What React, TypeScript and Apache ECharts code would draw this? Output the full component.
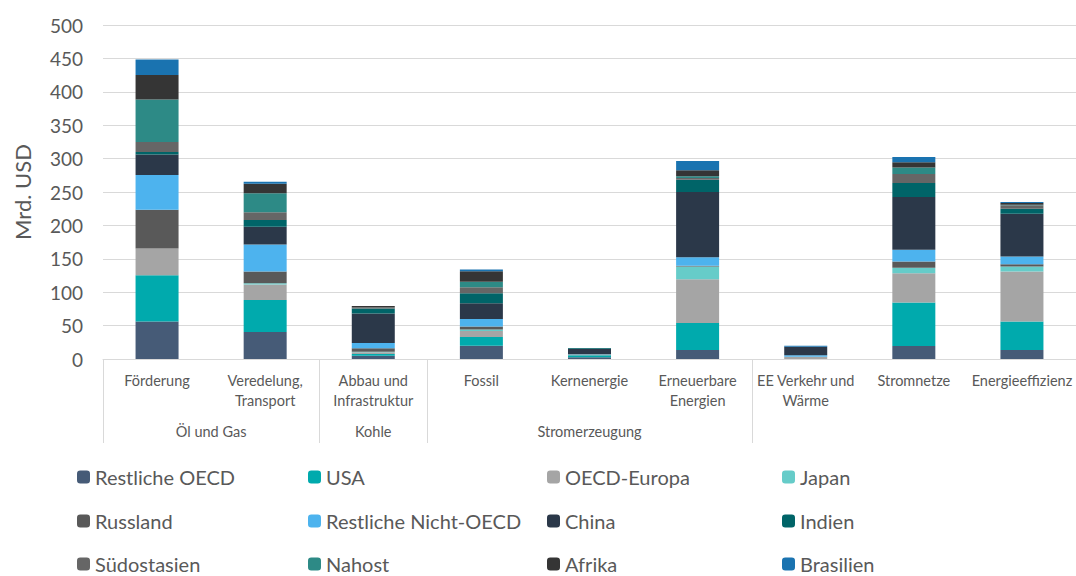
import React, { useEffect, useRef } from "react";
import * as echarts from "echarts";

const categories = [
  "Förderung",
  "Veredelung,\nTransport",
  "Abbau und\nInfrastruktur",
  "Fossil",
  "Kernenergie",
  "Erneuerbare\nEnergien",
  "EE Verkehr und\nWärme",
  "Stromnetze",
  "Energieeffizienz",
];

const groupNames = ["Öl und Gas", "Kohle", "Stromerzeugung"];
const groupFrom = [0, 2, 3];
const groupTo = [1, 2, 5];
const dividerBefore = [0, 2, 3, 6];

const seriesNames = [
  "Restliche OECD",
  "USA",
  "OECD-Europa",
  "Japan",
  "Russland",
  "Restliche Nicht-OECD",
  "China",
  "Indien",
  "Südostasien",
  "Nahost",
  "Afrika",
  "Brasilien",
];

const colors = [
  "#465B77",
  "#00AAAD",
  "#A5A5A5",
  "#66CCC9",
  "#595959",
  "#4DB3EE",
  "#2B3849",
  "#006468",
  "#666666",
  "#2D8A86",
  "#353535",
  "#1A73B0",
];

const restlicheOECD = [56, 40.5, 5, 20, 2.5, 13.5, 0, 19.5, 13.5];
const usa = [69.5, 48, 2.5, 13, 3, 40.5, 0, 65, 42.5];
const oecdEuropa = [40, 23, 2.5, 9, 0.5, 65.5, 3.5, 44, 75];
const japan = [0, 2, 1, 2, 0.5, 19, 0, 8, 7.5];
const russland = [58, 17.5, 5, 4.5, 0.5, 1, 0, 9.5, 3.5];
const restlicheNichtOECD = [52, 40.5, 8, 11.5, 0.5, 13, 2, 17.5, 11.5];
const china = [30.5, 26.5, 44, 23.5, 8, 97.5, 13, 79, 64];
const indien = [4, 10, 7.5, 15, 1, 18.5, 0, 21, 7.5];
const suedostasien = [15, 11.5, 2, 9, 0, 2.5, 0, 13.5, 5];
const nahost = [63.5, 28.5, 0, 8, 0, 2.5, 0, 9.5, 1];
const afrika = [36.5, 14.5, 2, 16, 0, 9, 0, 8, 2.5];
const brasilien = [23.5, 3, 0, 2.5, 0, 14, 1.5, 8, 1.5];

const seriesValues = [
  restlicheOECD,
  usa,
  oecdEuropa,
  japan,
  russland,
  restlicheNichtOECD,
  china,
  indien,
  suedostasien,
  nahost,
  afrika,
  brasilien,
];

const legendLeft = [77, 308, 547, 782];
const legendRowCenter = [477, 521, 564];

const FONT = "Lato, 'Open Sans', sans-serif";
const TXT = "#595959";

export default function App() {
  const ref = useRef<HTMLDivElement>(null);

  useEffect(() => {
    document.body.style.margin = "0";
    if (!ref.current) return;
    const chart = echarts.init(ref.current, undefined, { renderer: "svg" });

    const legends = seriesNames.map((name, i) => ({
      data: [name],
      orient: "horizontal",
      left: legendLeft[i % 4],
      top: legendRowCenter[Math.floor(i / 4)] - 10,
      padding: 0,
      itemWidth: 13,
      itemHeight: 13,
      itemTextGap: 6,
      selectedMode: false,
      textStyle: { color: TXT, fontFamily: FONT, fontSize: 20, lineHeight: 20 },
    }));

    const option: any = {
      animation: false,
      color: colors,
      textStyle: { fontFamily: FONT, color: TXT },
      grid: { left: 103, right: 0, top: 25, bottom: 217, containLabel: false },
      xAxis: {
        type: "category",
        data: categories,
        axisLine: { lineStyle: { color: "#D9D9D9", width: 1 } },
        axisTick: { show: false },
        axisLabel: {
          color: TXT,
          fontFamily: FONT,
          fontSize: 14.5,
          lineHeight: 20,
          margin: 11,
          interval: 0,
        },
      },
      yAxis: {
        type: "value",
        min: 0,
        max: 500,
        interval: 50,
        name: "Mrd. USD",
        nameLocation: "middle",
        nameGap: 70,
        nameTextStyle: { color: TXT, fontFamily: FONT, fontSize: 22 },
        axisLine: { show: false },
        axisTick: { show: false },
        axisLabel: { color: TXT, fontFamily: FONT, fontSize: 19, margin: 20 },
        splitLine: { lineStyle: { color: "#D9D9D9", width: 1 } },
      },
      legend: legends,
      series: seriesNames.map((name, i) => ({
        name,
        type: "bar",
        stack: "total",
        barWidth: 43,
        data: seriesValues[i],
        itemStyle: { color: colors[i] },
      })),
    };
    chart.setOption(option);

    const xs = categories.map((c) => chart.convertToPixel({ xAxisIndex: 0 }, c) as number);
    const bw = xs[1] - xs[0];
    const y0 = chart.convertToPixel({ yAxisIndex: 0 }, 0) as number;
    const graphics: any[] = [];
    dividerBefore.forEach((idx) => {
      const x = Math.round(xs[idx] - bw / 2) + 0.5;
      graphics.push({
        type: "line",
        shape: { x1: x, y1: y0, x2: x, y2: y0 + 84 },
        style: { stroke: "#D9D9D9", lineWidth: 1 },
        silent: true,
      });
    });
    groupNames.forEach((g, i) => {
      const cx = (xs[groupFrom[i]] + xs[groupTo[i]]) / 2;
      graphics.push({
        type: "text",
        x: cx,
        y: y0 + 72,
        style: {
          text: g,
          fill: TXT,
          font: `14.5px ${FONT}`,
          align: "center",
          verticalAlign: "middle",
        },
        silent: true,
      });
    });
    chart.setOption({ graphic: graphics });

    return () => chart.dispose();
  }, []);

  return <div ref={ref} style={{ width: 1076, height: 576 }} />;
}
